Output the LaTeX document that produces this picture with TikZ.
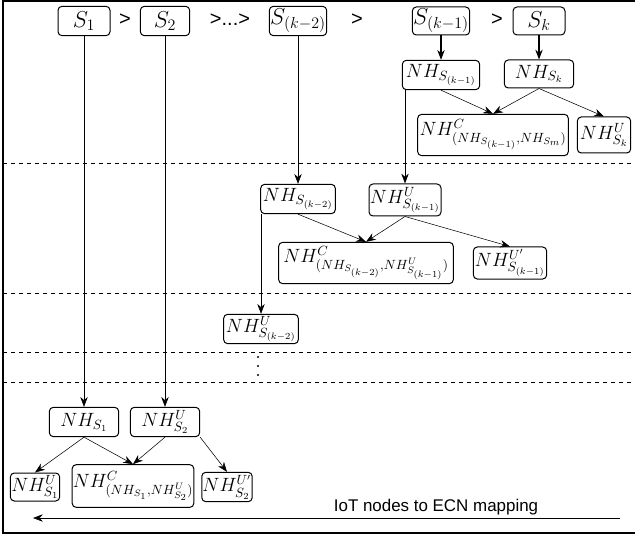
\documentclass[tikz,border=0pt]{standalone}
\usepackage{amsmath,amssymb}
\usepackage{fontspec}
\newfontfamily\arialfont{Liberation Sans}
\usetikzlibrary{arrows.meta}

\begin{document}
\begin{tikzpicture}[x=0.75pt,y=-0.75pt,>={Stealth[length=2.6mm]},
  box/.style={draw,line width=0.75pt,rounded corners=3pt,inner sep=0.5pt,font=\Large},
  sbox/.style={box,font=\LARGE},
  gt/.style={font=\arialfont\fontsize{15}{17}\selectfont}]
  \useasboundingbox (0,0) rectangle (635,538);
  % frame
  \draw[line width=0.9pt] (640,1) -| (3,533) -- (640,533);
  % levels
  \foreach \y in {163,293,352,382}
    \draw[dashed] (3,\y) -- (635,\y);
  \foreach \y in {357,366,375}
    \fill (258,\y) circle (1.1);
  % sensors
  \node[sbox,minimum width=39pt,minimum height=22pt] (s1) at (84,21) {$S_1$};
  \node[sbox,minimum width=37pt,minimum height=22pt] (s2) at (165,21) {$S_2$};
  \node[sbox,minimum width=43pt,minimum height=22pt] (sk2) at (298,21) {$S_{(k-2)}$};
  \node[sbox,minimum width=43pt,minimum height=21pt] (sk1) at (441,21) {$S_{(k-1)}$};
  \node[sbox,minimum width=39pt,minimum height=21pt] (sk) at (539,21) {$S_k$};
  \node[gt] (g1) at (125,20) {>};
  \node[gt] (g2) at (230,20) {>...>};
  \node[gt] (g3) at (357,20) {>};
  \node[gt] (g4) at (497,20) {>};
  % first level
  \node[box,minimum width=58pt,minimum height=22pt] (nhsk1) at (441,75) {$NH_{S_{(k-1)}}$};
  \node[box,minimum width=52pt,minimum height=21pt] (nhsk) at (539,74) {$NH_{S_k}$};
  \node[box,minimum width=113pt,minimum height=31pt] (nhc1) at (493,135) {$NH^C_{(NH_{S_{(k-1)}},NH_{S_m})}$};
  \node[box,minimum width=40pt,minimum height=27pt] (nhuk) at (604,135) {$NH^U_{S_k}$};
  % second level
  \node[box,minimum width=56pt,minimum height=22pt] (nhsk2) at (298,199) {$NH_{S_{(k-2)}}$};
  \node[box,minimum width=54pt,minimum height=24pt] (nhusk1) at (405,200) {$NH^U_{S_{(k-1)}}$};
  \node[box,minimum width=131pt,minimum height=31pt] (nhc2) at (366,263) {$NH^C_{(NH_{S_{(k-2)}},NH^U_{S_{(k-1)}})}$};
  \node[box,minimum width=55pt,minimum height=24pt] (nhup1) at (510,263) {$NH^{U'}_{S_{(k-1)}}$};
  % third level
  \node[box,minimum width=56pt,minimum height=22pt] (nhusk2) at (261,329) {$NH^U_{S_{(k-2)}}$};
  % last level
  \node[box,minimum width=52pt,minimum height=22pt] (nhs1) at (84,422) {$NH_{S_1}$};
  \node[box,minimum width=52pt,minimum height=22pt] (nhus2) at (165,422) {$NH^U_{S_2}$};
  \node[box,minimum width=37pt,minimum height=21pt] (nhus1) at (35,487) {$NH^U_{S_1}$};
  \node[box,minimum width=89pt,minimum height=32pt] (nhc3) at (133,486) {$NH^C_{(NH_{S_1},NH^U_{S_2})}$};
  \node[box,minimum width=36pt,minimum height=22pt] (nhup2) at (227,487) {$NH^{U'}_{S_2}$};
  % mapping
  \draw[->] (s1) -- (nhs1);
  \draw[->] (s2) -- (nhus2);
  \draw[->] (sk2) -- (nhsk2);
  \draw[->,thick] (sk1) -- (nhsk1);
  \draw[->,thick] (sk) -- (nhsk);
  \draw[->] (nhsk1.south) -- (nhc1.north);
  \draw[->] (nhsk.south) -- (nhc1.north);
  \draw[->] (nhsk.south) -- (nhuk.north);
  \draw[->] (nhusk1.north |- nhsk1.south) -- (nhusk1.north);
  \draw[->] (nhsk2.south) -- (nhc2.north);
  \draw[->] (nhusk1.south) -- (nhc2.north);
  \draw[->] (nhusk1.south) -- (nhup1.north);
  \draw[->] (nhusk2.north |- nhsk2.south) -- (nhusk2.north);
  \draw[->] (nhs1.south) -- (nhus1.north);
  \draw[->] (nhs1.south) -- (nhc3.north);
  \draw[->] (nhus2.south) -- (nhc3.north);
  \draw[->] (nhus2.south east) -- (nhup2.north);
  % direction
  \coordinate (mapA) at (620,518);
  \coordinate (mapB) at (33,518);
  \draw[->] (mapA) -- (mapB);
  \node[font=\arialfont\fontsize{12.7}{15}\selectfont] (maptxt) at (436,507) {IoT nodes to ECN mapping};
\end{tikzpicture}
\end{document}
